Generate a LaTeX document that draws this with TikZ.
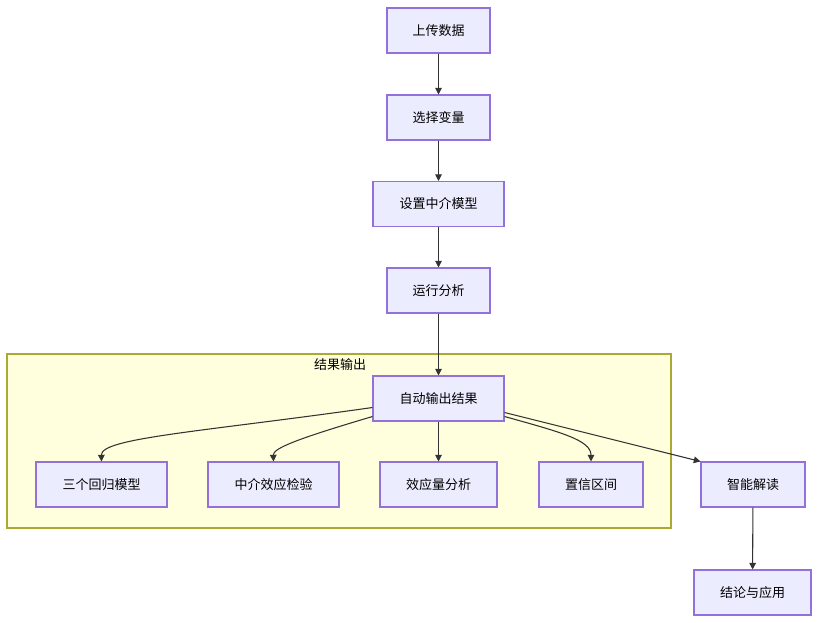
\documentclass[tikz,border=0pt]{standalone}
\usepackage{fontspec}
\setmainfont{Noto Sans CJK SC}
\usetikzlibrary{arrows.meta}
\definecolor{boxfill}{HTML}{ECECFF}
\definecolor{boxline}{HTML}{9370DB}
\definecolor{groupfill}{HTML}{FFFFDE}
\definecolor{groupline}{HTML}{AAAA33}
\definecolor{edgecol}{HTML}{333333}
\tikzset{
  stepbox/.style={draw=boxline, fill=boxfill, line width=0.8pt, inner sep=0pt,
    minimum height=45*0.75pt, font=\fontsize{9.75}{12}\selectfont},
  flow/.style={draw=edgecol, line width=0.8pt, -{Triangle[length=5pt,width=5pt]}}
}
\begin{document}
\begin{tikzpicture}[x=0.75pt,y=-0.75pt]
\useasboundingbox (0,0) rectangle (831,622);
% group
\draw[draw=groupline, fill=groupfill, line width=0.8pt] (7,354) rectangle (671,528);
\node[font=\fontsize{9.75}{12}\selectfont] (grouplabel) at (340,365) {结果输出};
% steps
\node[stepbox, minimum width=103*0.75pt] (upload) at (438.5,30.5) {上传数据};
\node[stepbox, minimum width=103*0.75pt] (select) at (438.5,117.5) {选择变量};
\node[stepbox, minimum width=131*0.75pt] (model) at (438.5,204) {设置中介模型};
\node[stepbox, minimum width=103*0.75pt] (run) at (438.5,290.5) {运行分析};
\node[stepbox, minimum width=131*0.75pt] (auto) at (438.5,398.5) {自动输出结果};
\node[stepbox, minimum width=131*0.75pt] (reg) at (101.5,484.5) {三个回归模型};
\node[stepbox, minimum width=131*0.75pt] (test) at (273.5,484.5) {中介效应检验};
\node[stepbox, minimum width=117*0.75pt] (size) at (438.5,484.5) {效应量分析};
\node[stepbox, minimum width=104*0.75pt] (ci) at (591,484.5) {置信区间};
\node[stepbox, minimum width=104*0.75pt] (interp) at (753,484.5) {智能解读};
\node[stepbox, minimum width=117*0.75pt] (concl) at (752.5,592.5) {结论与应用};
% edges
\draw[flow] (upload) -- (select);
\draw[flow] (select) -- (model);
\draw[flow] (model) -- (run);
\draw[flow] (run) -- (auto);
\draw[flow] (auto.south) -- (size.north);
\draw[flow] ([yshift=-9*0.75pt]auto.west) .. controls (200,432) and (101,438) .. (reg.north);
\draw[flow] ([yshift=-18*0.75pt]auto.west) .. controls (300,438) and (273,448) .. (test.north);
\draw[flow] ([yshift=-18*0.75pt]auto.east) .. controls (560,432) and (591,440) .. (ci.north);
\draw[flow] ([yshift=-14*0.75pt]auto.east) -- (interp.north west);
\draw[flow] (interp) -- (concl);
\end{tikzpicture}
\end{document}
